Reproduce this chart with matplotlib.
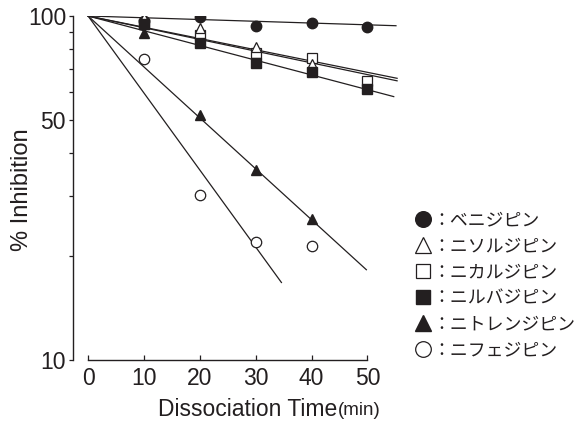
import numpy as np
import matplotlib
matplotlib.use('Agg')
from matplotlib import pyplot as plt
from matplotlib.ticker import FixedLocator, NullFormatter

plt.rcParams['font.family'] = ['Liberation Sans', 'Noto Sans CJK JP']

# measured points (% inhibition remaining)
times = [10, 20, 30, 40, 50]
benidipine = [97, 99.1, 93.5, 95.6, 93.1]
nisoldipine_t = [10, 20, 30, 40]
nisoldipine = [99, 92.5, 81.4, 72.4]
nicardipine = [95, 88.1, 77.9, 75.3, 64.7]
nilvadipine = [94.8, 83.3, 73.1, 68.9, 61.2]
nitrendipine_t = [10, 20, 30, 40]
nitrendipine = [89.2, 51.5, 35.7, 25.7]
nifedipine_t = [10, 20, 30, 40]
nifedipine = [74.8, 30.2, 22.1, 21.5]

# fitted mono-exponential lines: end time and value at end
fit_end_t = {'benidipine': 55.1, 'nisoldipine': 55.3, 'nicardipine': 55.3,
             'nilvadipine': 54.7, 'nitrendipine': 49.8, 'nifedipine': 34.6}
fit_end_val = {'benidipine': 93.7, 'nisoldipine': 65.9, 'nicardipine': 64.8,
               'nilvadipine': 58.3, 'nitrendipine': 18.3, 'nifedipine': 16.8}

ink = '#231f20'

fig = plt.figure(figsize=(5.76, 4.23), dpi=100)
ax = fig.add_axes([73 / 576, 1 - 360 / 423, 328 / 576, 344 / 423])

# fit lines
for name in fit_end_t:
    t1 = fit_end_t[name]
    k = np.log(fit_end_val[name] / 100.0) / t1
    tt = np.array([0, t1])
    ax.plot(tt, 100 * np.exp(k * tt), color=ink, lw=0.9, zorder=2)

ms = 7.5
h_ben, = ax.plot(times, benidipine, 'o', ms=ms, mfc=ink, mec=ink, zorder=3)
h_nic, = ax.plot(times, nicardipine, 's', ms=ms - 0.5, mfc='white', mec=ink, mew=0.9, zorder=4)
h_nis, = ax.plot(nisoldipine_t, nisoldipine, '^', ms=ms, mfc='white', mec=ink, mew=0.9, zorder=5)
h_nit, = ax.plot(nitrendipine_t, nitrendipine, '^', ms=ms, mfc=ink, mec=ink, zorder=5)
h_nil, = ax.plot(times, nilvadipine, 's', ms=ms - 0.5, mfc=ink, mec=ink, zorder=6)
h_nif, = ax.plot(nifedipine_t, nifedipine, 'o', ms=ms, mfc='white', mec=ink, mew=0.9, zorder=5)

ax.set_yscale('log')
ax.set_ylim(10, 100)
ax.set_xlim(-2.7, 56)

for s in ['top', 'right']:
    ax.spines[s].set_visible(False)
ax.spines['left'].set_color(ink)
ax.spines['bottom'].set_color(ink)
ax.spines['left'].set_linewidth(1.0)
ax.spines['bottom'].set_linewidth(1.0)
ax.spines['bottom'].set_bounds(0, 50)

ax.set_xticks([0, 10, 20, 30, 40, 50])
ax.set_yticks([10, 50, 100])
ax.set_yticklabels(['10', '50', '100'])
ax.yaxis.set_minor_locator(FixedLocator([20, 30, 40, 60, 70, 80, 90]))
ax.yaxis.set_minor_formatter(NullFormatter())
ax.tick_params(axis='x', direction='in', length=3.5, width=0.9, color=ink,
               labelsize=16.5, pad=5, labelcolor=ink)
ax.tick_params(axis='y', which='both', direction='out', length=3, width=0.9,
               color=ink, labelsize=16.5, pad=2, labelcolor=ink)

fig.text(22 / 576, 1 - 190 / 423, '% Inhibition', rotation=90, ha='center',
         va='center', fontsize=17, color=ink)
fig.text(337 / 576, 1 - 409 / 423, 'Dissociation Time', ha='right', va='center',
         fontsize=16.5, color=ink)
fig.text(338 / 576, 1 - 410 / 423, '(min)', ha='left', va='center',
         fontsize=13.5, color=ink)

handles = [h_ben, h_nis, h_nic, h_nil, h_nit, h_nif]
labels = ['：ベニジピン', '：ニソルジピン', '：ニカルジピン', '：ニルバジピン',
          '：ニトレンジピン', '：ニフェジピン']
leg = fig.legend(handles, labels, loc='upper left',
                 bbox_to_anchor=(407 / 576, 1 - 205 / 423), frameon=False,
                 fontsize=12.9, markerscale=1.5, handlelength=1.0,
                 handletextpad=0.0, labelspacing=0.5, borderaxespad=0)
for t in leg.get_texts():
    t.set_color(ink)

fig.savefig('out.png', dpi=100)
